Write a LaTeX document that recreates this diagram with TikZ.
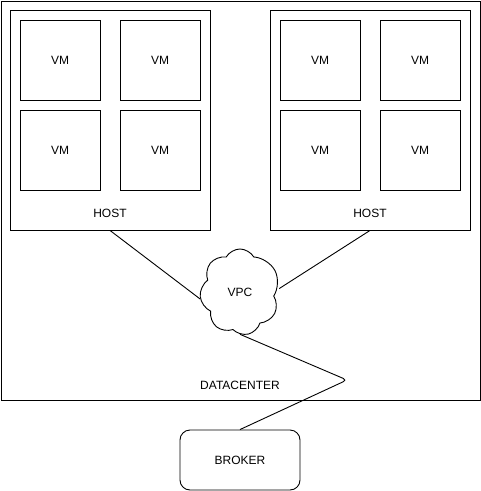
\documentclass[tikz,border=0pt]{standalone}
\usepackage{fontspec}
\setmainfont{Liberation Sans}
\usetikzlibrary{shapes.symbols}

\begin{document}
\begin{tikzpicture}[x=1pt,y=-1pt,line width=0.9pt,font=\fontsize{12}{14}\selectfont]

	\useasboundingbox (0,0) rectangle (481,491);

	\tikzset{vmbox/.style={draw,minimum size=80pt,inner sep=0pt}}
	\tikzset{hostbox/.style={draw,minimum width=200pt,minimum height=220pt,inner sep=0pt}}
	\tikzset{cloudbox/.style={draw,cloud,cloud puffs=7.5,cloud puff arc=120,aspect=1,minimum width=80pt,minimum height=86pt,inner sep=0pt}}

	% datacenter
	\node[draw,minimum width=479pt,minimum height=399pt,inner sep=0pt] (dc) at (240.5,200.5) {};
	\node (dclbl) at (240,385) {DATACENTER};

	% hosts with their VMs
	\foreach \h/\hx in {1/10,2/270} {
		\begin{scope}[shift={(\hx,10)}]
			\node[hostbox] (h\h) at (100,110) {};
			\node (h\h lbl) at (100,203) {HOST};
			\foreach \i/\x/\y in {a/50/50,b/150/50,c/50/140,d/150/140} {
				\node[vmbox] (vm\h\i) at (\x,\y) {VM};
			}
		\end{scope}
	}

	% network
	\node[cloudbox] (vpc) at (240,292) {VPC};
	\draw (h1.south) -- (vpc.190);
	\draw (h2.south) -- (vpc.5);

	% broker
	\node[draw,rounded corners=10pt,minimum width=120pt,minimum height=60pt] (broker) at (240,460) {BROKER};
	\coordinate (bend) at (347,380);
	\draw[rounded corners=4pt] (vpc.south) -- (bend) -- (broker.north);

\end{tikzpicture}
\end{document}
